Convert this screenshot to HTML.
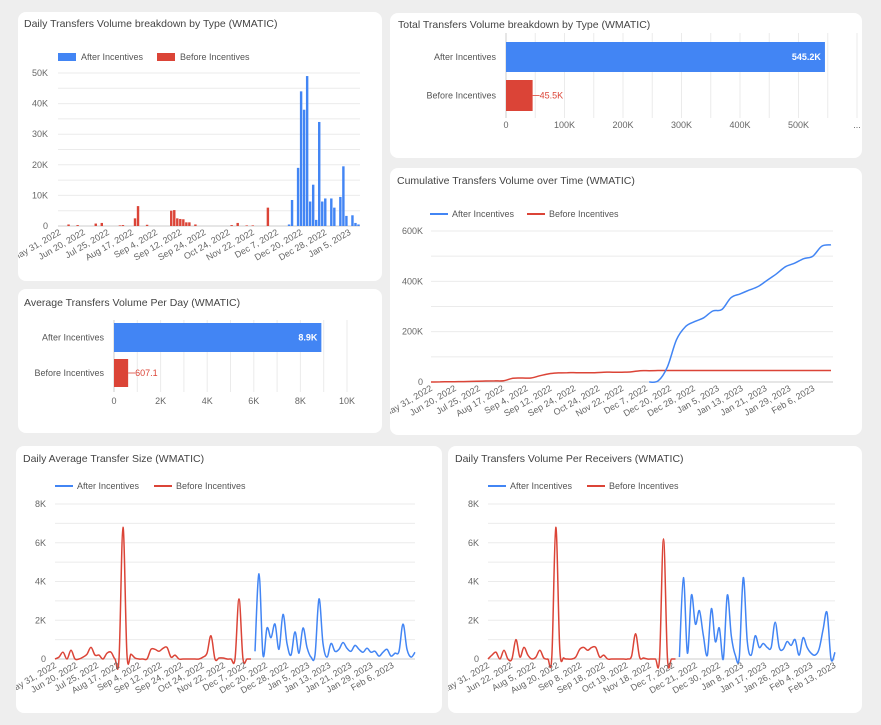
<!DOCTYPE html>
<html><head><meta charset="utf-8">
<style>
html,body{margin:0;padding:0;}
body{width:881px;height:725px;background:#eeeeee;position:relative;overflow:hidden;font-family:"Liberation Sans",Arial,sans-serif;}
.card{position:absolute;background:#fff;border-radius:8px;}
.title{position:absolute;font-size:10.5px;color:#444;white-space:nowrap;}
svg{position:absolute;left:0;top:0;}
text{font-family:"Liberation Sans",Arial,sans-serif;}
</style></head>
<body>
<div class="card" style="left:18px;top:12px;width:364px;height:269px"></div>
<div class="card" style="left:390px;top:13px;width:472px;height:145px"></div>
<div class="card" style="left:18px;top:289px;width:364px;height:144px"></div>
<div class="card" style="left:390px;top:168px;width:472px;height:267px"></div>
<div class="card" style="left:16px;top:446px;width:426px;height:267px"></div>
<div class="card" style="left:448px;top:446px;width:414px;height:267px"></div>
<div class="title" style="left:24px;top:18px">Daily Transfers Volume breakdown by Type (WMATIC)</div>
<div class="title" style="left:398px;top:19px">Total Transfers Volume breakdown by Type (WMATIC)</div>
<div class="title" style="left:24px;top:297px">Average Transfers Volume Per Day (WMATIC)</div>
<div class="title" style="left:397px;top:175px">Cumulative Transfers Volume over Time (WMATIC)</div>
<div class="title" style="left:23px;top:453px">Daily Average Transfer Size (WMATIC)</div>
<div class="title" style="left:455px;top:453px">Daily Transfers Volume Per Receivers (WMATIC)</div>
<svg id="main" width="881" height="725" xmlns="http://www.w3.org/2000/svg">
<defs>
<clipPath id="c1"><rect x="18" y="12" width="364" height="269"/></clipPath>
<clipPath id="c4"><rect x="390" y="168" width="472" height="267"/></clipPath>
<clipPath id="c5"><rect x="16" y="446" width="426" height="267"/></clipPath>
<clipPath id="c6"><rect x="448" y="446" width="414" height="267"/></clipPath>
</defs>
</svg>
<script>
// ---------- data ----------
const dailyAfter = [0,0,0,0,0,0,0,0,0,0, 0,0,0,0,0,0,0,0,0,0, 0,0,0,0,0,0,0,0,0,0, 0,0,0,0,0,0,0,0,0,0, 0,0,0,0,0,0,0,0,0,0, 0,0,0,0,0,0,0,0,0,0, 0,0,0,0,0,0,0,0,0,0, 0,0,0,0,0,0,0.5,8.5,0,19, 44,38,49,8,13.5,2,34,8,9,0, 9,6,0,9.5,19.5,3.3,0,3.5,1,0.5];
const dailyBefore = [0,0,0,0.5,0,0,0.3,0,0,0, 0,0,0.8,0,1,0,0,0,0,0, 0.2,0.3,0,0,0,2.5,6.5,0,0,0.4, 0,0,0,0,0,0,0,5,5.2,2.5, 2.3,2.2,1.2,1.2,0,0.5,0,0,0,0, 0,0,0,0,0,0,0,0.3,0,1, 0,0,0.2,0,0.2,0,0,0,0,6, 0,0,0,0,0,0,0,0,0,0, 0,0,0,0,0,0,0,0,0,0, 0,0,0,0,0,0,0,0,0,0];
const dailyTicks = ["May 31, 2022","Jun 20, 2022","Jul 25, 2022","Aug 17, 2022","Sep 4, 2022","Sep 12, 2022","Sep 24, 2022","Oct 24, 2022","Nov 22, 2022","Dec 7, 2022","Dec 20, 2022","Dec 28, 2022","Jan 5, 2023"];
const dailyYTicks = [0,10,20,30,40,50];

const barCategories = ["After Incentives","Before Incentives"];
const totalValues = [545.2,45.5];
const totalLabels = ["545.2K","45.5K"];
const totalTicks = ["0","100K","200K","300K","400K","500K","..."];
const avgValues = [8.9,0.6071];
const avgLabels = ["8.9K","607.1"];
const avgTicks = ["0","2K","4K","6K","8K","10K"];

const cumAfter = [null,null,null,null,null,null,null,null,null,null,null,null,null,null,null,null,null,null,null,null,null,null,null,null,0,5,60,168,220,240,255,282,288,335,350,365,380,405,430,458,472,490,500,540,545];
const cumBefore = [0,0.5,1,1.5,2,3,4,4.5,5,15,16,16,25,33,36,37,37,37,37,39,39,39,40,45,45,45.5,45.5,45.5,45.5,45.5,45.5,45.5,45.5,45.5,45.5,45.5,45.5,45.5,45.5,45.5,45.5,45.5,45.5,45.5,45.5];
const cumTicks = ["May 31, 2022","Jun 20, 2022","Jul 25, 2022","Aug 17, 2022","Sep 4, 2022","Sep 12, 2022","Sep 24, 2022","Oct 24, 2022","Nov 22, 2022","Dec 7, 2022","Dec 20, 2022","Dec 28, 2022","Jan 5, 2023","Jan 13, 2023","Jan 21, 2023","Jan 29, 2023","Feb 6, 2023"];
const cumYTicks = [0,200,400,600];

const sizeBefore = [0,0.1,0.35,0,0.45,0,0,0.1,0.25,0.6, 0.2,0.2,0,0.3,0.35,0,0,6.8,0.2,0.25, 0.05,0,0,0,0.5,0.5,0.4,0.55,0.6,0.1, 0.2,0,0,0,0,0,0,0.1,0.3,1.2, 0,0.05,0.05,0,0,0,3.1,0,0,0, null,null,null,null,null,null,null,null,null,null, null,null,null,null,null,null,null,null,null,null, null,null,null,null,null,null,null,null,null,null, null,null,null,null,null,null,null,null,null,null, null];
const sizeAfter = [null,null,null,null,null,null,null,null,null,null, null,null,null,null,null,null,null,null,null,null, null,null,null,null,null,null,null,null,null,null, null,null,null,null,null,null,null,null,null,null, null,null,null,null,null,null,null,null,null,null, 0.4,4.4,0.2,1.6,1.1,1.8,0.5,2.3,0.8,0.2, 1.4,0.3,1.6,0.6,0.1,0.2,3.1,0.8,0.1,0.8, 0.4,0.5,0.85,0.55,0.4,0.7,0.5,0.35,0.55,0.35, 0.4,0.15,0.35,0.5,0.15,0.3,0.4,1.8,0.5,0.1, 0.35];
const sizeTicks = ["May 31, 2022","Jun 20, 2022","Jul 25, 2022","Aug 17, 2022","Sep 4, 2022","Sep 12, 2022","Sep 24, 2022","Oct 24, 2022","Nov 22, 2022","Dec 7, 2022","Dec 20, 2022","Dec 28, 2022","Jan 5, 2023","Jan 13, 2023","Jan 21, 2023","Jan 29, 2023","Feb 6, 2023"];

const recvBefore = [0,0.2,0.35,0,0.45,0,0,1.0,0.1,0.6, 0.2,0,0.1,0.45,0.05,0,0.1,6.8,0.5,0.05, 0,0,0.1,0.5,0.6,0.45,0.6,0.6,0.1,0.2, 0,0,0,0,0,0,0.15,1.3,0.1,0.05, 0,0,0,0,6.2,0,0,0,null,null, null,null,null,null,null,null,null,null,null,null, null,null,null,null,null,null,null,null,null,null, null,null,null,null,null,null,null,null,null,null, null,null,null,null,null,null,null,null];
const recvAfter = [null,null,null,null,null,null,null,null,null,null, null,null,null,null,null,null,null,null,null,null, null,null,null,null,null,null,null,null,null,null, null,null,null,null,null,null,null,null,null,null, null,null,null,null,null,null,null,null,0.1,4.2, 0.3,3.3,1.8,2.5,1.2,0.2,2.6,0.9,1.6,0, 3.3,1.2,0.2,0.1,4.2,0.9,0.2,1.2,0.6,0.8, 0.6,0.6,1.9,0.6,0.5,0.9,0.7,1.0,0.2,1.1, 0.6,0.3,0.2,0.5,1.5,2.4,0,0.35];
const recvTicks = ["May 31, 2022","Jun 22, 2022","Aug 5, 2022","Aug 20, 2022","Sep 8, 2022","Sep 18, 2022","Oct 19, 2022","Nov 18, 2022","Dec 7, 2022","Dec 21, 2022","Dec 30, 2022","Jan 8, 2023","Jan 17, 2023","Jan 26, 2023","Feb 4, 2023","Feb 13, 2023"];
const smallYTicks = [0,2,4,6,8];

// ---------- helpers ----------
const NS="http://www.w3.org/2000/svg";
const svg=document.getElementById('main');
const BLUE="#4285f4", RED="#db4437", GRID="#ebebeb", AX="#666";
const FS=9;
function mk(tag,attrs,parent){const e=document.createElementNS(NS,tag);for(const k in attrs)e.setAttribute(k,attrs[k]);(parent||svg).appendChild(e);return e;}
function txt(s,attrs,parent){const e=mk('text',attrs,parent);e.textContent=s;return e;}
function group(clip){const g=mk('g',clip?{'clip-path':'url(#'+clip+')'}:{});return g;}
function fmtK(v){return v===0?"0":v+"K";}
function smoothPath(pts){
  if(pts.length<2)return "";
  let d="M"+pts[0][0].toFixed(1)+","+pts[0][1].toFixed(1);
  for(let i=0;i<pts.length-1;i++){
    const p0=pts[i-1]||pts[i],p1=pts[i],p2=pts[i+1],p3=pts[i+2]||p2;
    const t=0.17;
    const c1x=p1[0]+(p2[0]-p0[0])*t,c1y=p1[1]+(p2[1]-p0[1])*t;
    const c2x=p2[0]-(p3[0]-p1[0])*t,c2y=p2[1]-(p3[1]-p1[1])*t;
    d+=" C"+c1x.toFixed(1)+","+c1y.toFixed(1)+" "+c2x.toFixed(1)+","+c2y.toFixed(1)+" "+p2[0].toFixed(1)+","+p2[1].toFixed(1);
  }
  return d;
}
function segments(vals,xf,yf){
  const segs=[];let cur=[];
  vals.forEach((v,i)=>{if(v===null){if(cur.length)segs.push(cur);cur=[];}else cur.push([xf(i),yf(v)]);});
  if(cur.length)segs.push(cur);return segs;
}
function lineLegend(g,x,y,gap){
  const a=mk('line',{x1:x,y1:y,x2:x+18,y2:y,stroke:BLUE,'stroke-width':2},g);
  
  
  const at=txt("After Incentives",{x:x+22,y:y+3,'font-size':FS,fill:'#555'},g);
  
  
  const b=mk('line',{x1:x+gap,y1:y,x2:x+gap+18,y2:y,stroke:RED,'stroke-width':2},g);
  
  
  const bt=txt("Before Incentives",{x:x+gap+22,y:y+3,'font-size':FS,fill:'#555'},g);
  
  
}
function xLabels(g,labels,xf,y0){
  labels.forEach((l,i)=>{
    const x=xf(i)+2, y=y0+8;
    const t=txt(l,{x:x,y:y,'font-size':FS,fill:AX,'text-anchor':'end',transform:'rotate(-30 '+x+' '+y+')'},g);
    
    
  });
}
function yAxis(g,ticks,yf,x0,x1,labelX,minorStep,maxV,fmt){
  for(let v=0;v<=maxV+1e-9;v+=minorStep){
    const gl=mk('line',{x1:x0,x2:x1,y1:yf(v),y2:yf(v),stroke:v===0?'#ccc':GRID,'stroke-width':1},g);
    
    
  }
  ticks.forEach(v=>{
    const t=txt(fmt(v),{x:labelX,y:yf(v)+3,'font-size':FS,fill:AX,'text-anchor':'end'},g);
    
    
  });
}

// ---------- chart 1: daily bars ----------
(function(){
  const g=group('c1');
  
  const X0=58,X1=360,Y0=226,Y1=73,N=dailyAfter.length,slot=(X1-X0)/N;
  const yf=v=>Y0-(v/50)*(Y0-Y1);
  const xc=i=>X0+slot*(i+0.5);
  yAxis(g,dailyYTicks,yf,X0,X1,48,5,50,fmtK);
  const r1=mk('rect',{x:58,y:53,width:18,height:8,fill:BLUE},g);
  
  
  const t1=txt("After Incentives",{x:81,y:60,'font-size':FS,fill:'#555'},g);
  
  
  const r2=mk('rect',{x:157,y:53,width:18,height:8,fill:RED},g);
  
  
  const t2=txt("Before Incentives",{x:180,y:60,'font-size':FS,fill:'#555'},g);
  
  
  [[dailyAfter,BLUE],[dailyBefore,RED]].forEach(([arr,col])=>{
    arr.forEach((v,i)=>{
      if(v>0){
        const b=mk('rect',{x:(X0+slot*i+0.3).toFixed(2),y:yf(v).toFixed(2),width:(slot-0.6).toFixed(2),height:(Y0-yf(v)).toFixed(2),fill:col},g);
        
        
      }
    });
  });
  xLabels(g,dailyTicks,i=>xc(i*8),Y0);
})();

// ---------- horizontal bar charts ----------
function hbar(name,vals,labels,ticks,x0,unit,unitPx,maxV,minor,yTop,yBot,rows,catX,tickY){
  const g=group();
  
  const xf=v=>x0+v/unit*unitPx;
  for(let v=0;v<=maxV+1e-9;v+=minor){
    const gl=mk('line',{x1:xf(v),x2:xf(v),y1:yTop,y2:yBot,stroke:v===0?'#ccc':GRID,'stroke-width':1},g);
    
    
  }
  ticks.forEach((l,i)=>{
    const t=txt(l,{x:xf(i*unit),y:tickY,'font-size':FS,fill:AX,'text-anchor':'middle'},g);
    
    
  });
  const cols=[BLUE,RED];
  vals.forEach((v,i)=>{
    const [y,h]=rows[i];
    const c=txt(barCategories[i],{x:catX,y:y+h/2+3,'font-size':FS,fill:'#555','text-anchor':'end'},g);
    
    
    const b=mk('rect',{x:x0,y:y,width:xf(v)-x0,height:h,fill:cols[i]},g);
    
    
    if(i===0){
      const t=txt(labels[i],{x:xf(v)-4,y:y+h/2+3,'font-size':FS,'font-weight':'bold',fill:'#fff','text-anchor':'end'},g);
      
      
    }else{
      const ln=mk('line',{x1:xf(v),x2:xf(v)+7,y1:y+h/2,y2:y+h/2,stroke:RED,'stroke-width':0.8},g);
      
      
      const t=txt(labels[i],{x:xf(v)+7,y:y+h/2+3,'font-size':FS,fill:RED},g);
      
      
    }
  });
}
hbar('total-volume-chart',totalValues,totalLabels,totalTicks,506,100,58.5,600,50,33,118,[[42,30],[80,31]],496,128);
hbar('average-volume-chart',avgValues,avgLabels,avgTicks,114,2,46.6,10,1,320,392,[[323,29],[359,28]],104,404);

// ---------- cumulative ----------
(function(){
  const g=group('c4');
  
  const X0=431,X1=831,Y0=382,Y1=231,N=cumBefore.length;
  const yf=v=>Y0-(v/600)*(Y0-Y1);
  const xf=i=>X0+(X1-X0)*i/(N-1);
  yAxis(g,cumYTicks,yf,X0,X1+2,423,100,600,fmtK);
  lineLegend(g,430,214,97);
  [[cumBefore,RED,'line-before-incentives'],[cumAfter,BLUE,'line-after-incentives']].forEach(([arr,col,nm])=>{
    segments(arr,xf,yf).forEach(s=>{
      const p=mk('path',{d:smoothPath(s),fill:'none',stroke:col,'stroke-width':1.5},g);
      
      
    });
  });
  xLabels(g,cumTicks,i=>X0+i*23.9,Y0);
})();

// ---------- small line charts ----------
function smallLine(clip,name,before,after,ticks,X0,X1,labelX,legendGap,tickStep){
  const g=group(clip);
  
  const Y0=659,Y1=504,N=before.length;
  const yf=v=>Y0-(v/8)*(Y0-Y1);
  const xf=i=>X0+(X1-X0)*i/(N-1);
  yAxis(g,smallYTicks,yf,X0,X1,labelX,1,8,fmtK);
  lineLegend(g,X0,486,legendGap);
  [[before,RED,'line-before-incentives'],[after,BLUE,'line-after-incentives']].forEach(([arr,col,nm])=>{
    segments(arr,xf,yf).forEach(s=>{
      const p=mk('path',{d:smoothPath(s),fill:'none',stroke:col,'stroke-width':1.5},g);
      
      
    });
  });
  xLabels(g,ticks,i=>X0+i*tickStep,Y0);
}
smallLine('c5','avg-transfer-size-chart',sizeBefore,sizeAfter,sizeTicks,55,415,46,99,21.1);
smallLine('c6','volume-per-receiver-chart',recvBefore,recvAfter,recvTicks,488,835,479,99,23.1);
</script>
</body></html>
